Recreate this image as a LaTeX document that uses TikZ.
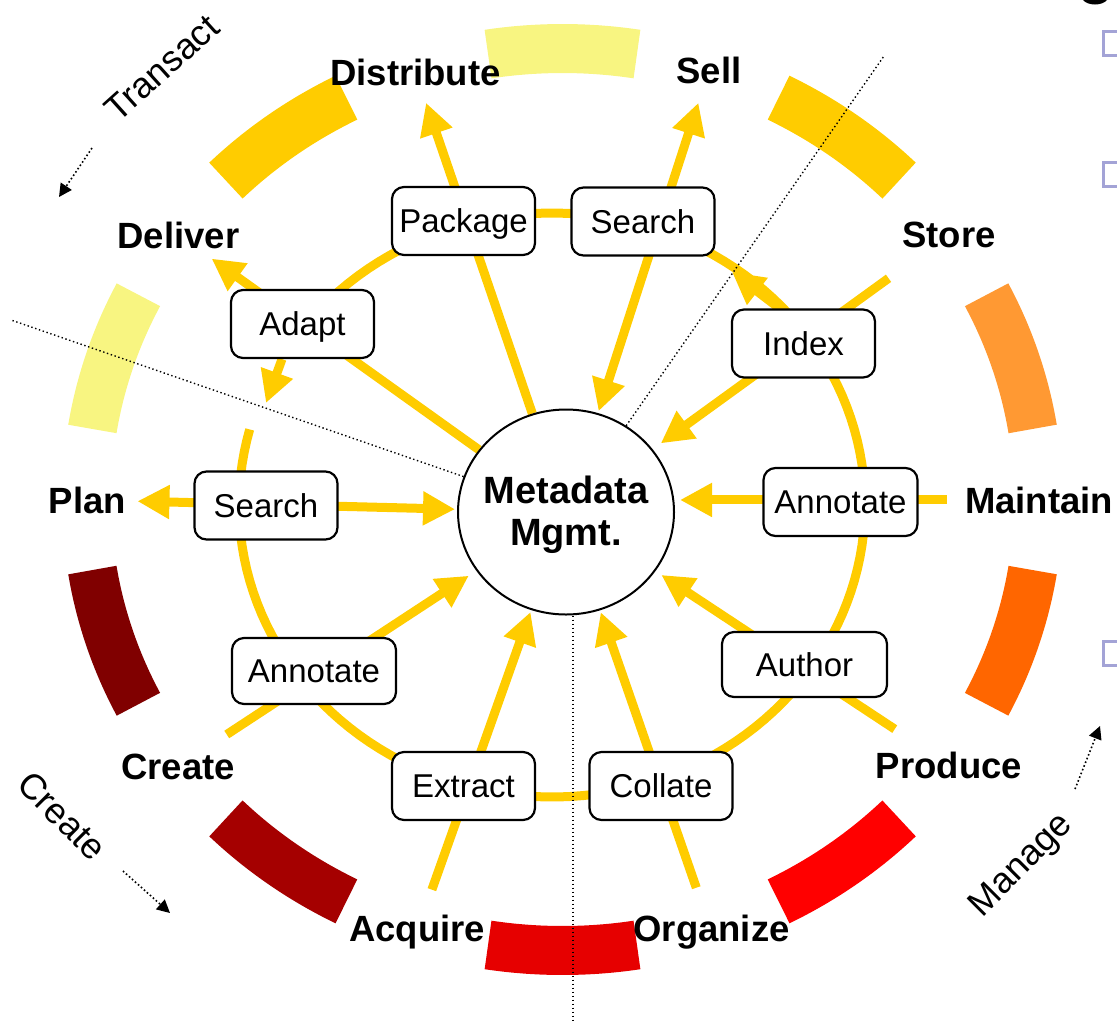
\documentclass[tikz,border=0pt]{standalone}
\usepackage{fontspec}
\setmainfont{Liberation Sans}
\usetikzlibrary{positioning,calc,arrows.meta,shapes.geometric}
\pgfdeclarelayer{background}
\pgfsetlayers{background,main}
\definecolor{gold}{HTML}{FFCC00}
\definecolor{paleyel}{HTML}{F8F581}
\definecolor{amber}{HTML}{FF9933}
\definecolor{tangerine}{HTML}{FF6600}
\definecolor{redA}{HTML}{FF0000}
\definecolor{redB}{HTML}{E60000}
\definecolor{redC}{HTML}{A50000}
\definecolor{maroon}{HTML}{800000}
\definecolor{lavender}{HTML}{A3A3D6}
\newcommand*{\phs}[1]{\fontsize{18.25}{20}\selectfont\bfseries #1}
\newcommand*{\seg}[3]{\draw[line width=24.5pt,#3]
  plot[domain=#1:#2,samples=30,variable=\t]
  ({562.5+476*cos(\t)},{499.5-451*sin(\t)});}

\begin{document}
\begin{tikzpicture}[x=0.5pt,y=-0.5pt,
  task/.style={draw,fill=white,rounded corners=6pt,line width=1.1pt,
    minimum width=71.5pt,minimum height=34pt,inner sep=2pt,
    text height=11.8pt,text depth=0pt,font=\fontsize{16.5}{18}\selectfont},
  phase/.style={anchor=base,inner sep=0pt},
  flow/.style={gold,line width=4.5pt,>={Triangle[length=16pt,width=16pt]}},
  divider/.style={line width=0.7pt,dash pattern=on 0.7pt off 1.3pt},
  hint/.style={line width=0.8pt,dash pattern=on 0.8pt off 1.2pt,
    -{Triangle[length=6.5pt,width=6.5pt]}}]
% Page is the size of the slide crop
\useasboundingbox (0,0) rectangle (1117,1023);
\clip (0,0) rectangle (1117,1023);
% Metadata circle in the middle
\node[draw,fill=white,ellipse,line width=1pt,inner sep=0pt,
  minimum width=108pt,minimum height=102.5pt] (meta) at (566,512) {};
\node[align=center,font=\fontsize{19}{21}\selectfont\bfseries] (metatxt)
  at ([yshift=-1.5pt]meta.center) {Metadata\\Mgmt.};
% Phases round the outside
\node[phase] (dist) at (415.5,85) {\phs{Distribute}};
\node[phase] (sell) at (709,83) {\phs{Sell}};
\node[phase] (store) at (949,247) {\phs{Store}};
\node[phase] (maint) at (1039,513) {\phs{Maintain}};
\node[phase] (prod) at (949,778) {\phs{Produce}};
\node[phase] (org) at (711.5,941) {\phs{Organize}};
\node[phase] (acq) at (417,941) {\phs{Acquire}};
\node[phase] (create) at (178,779) {\phs{Create}};
\node[phase] (plan) at (87.5,513) {\phs{Plan}};
\node[phase] (deliv) at (178.5,248) {\phs{Deliver}};
% Tasks on the inner ring
\node[task] (pkg) at (463.5,221) {Package};
\node[task] (srchT) at (643,221.5) {Search};
\node[task] (idx) at (803.5,343.5) {Index};
\node[task,minimum width=77pt] (annR) at (840.5,502) {Annotate};
\node[task,minimum width=82.5pt,minimum height=32.5pt] (auth) at (804.5,664.5) {Author};
\node[task] (coll) at (661,786) {Collate};
\node[task] (extr) at (463.5,786) {Extract};
\node[task,minimum width=82pt,minimum height=33pt] (annL) at (314,671) {Annotate};
\node[task] (srchL) at (266,505.5) {Search};
\node[task] (adapt) at (302.5,324) {Adapt};
% Ends of the dotted cuts and of the two ring arrows
\coordinate (cutNE) at (884,56);
\coordinate (cutW) at (11,320);
\coordinate (cutS) at (573,1023);
\coordinate (idxtip) at (732,272);
\coordinate (adtip) at (266,403);
\begin{pgfonlayer}{background}
% Outer bands, one between each pair of phases
\seg{81}{99}{paleyel}
\seg{117}{135}{gold}
\seg{153}{171}{paleyel}
\seg{189}{207}{maroon}
\seg{225}{243}{redC}
\seg{261}{279}{redB}
\seg{297}{315}{redA}
\seg{333}{351}{tangerine}
\seg{9}{27}{amber}
\seg{45}{63}{gold}
% Inner ring (open just below Adapt)
\draw[gold,line width=4.5pt] plot[domain=165:509,samples=150,variable=\t]
  ({552+313*cos(\t)},{505-292*sin(\t)});
% Arrows through the tasks
\draw[flow,->,shorten >=9pt] (meta) -- (dist);
\draw[flow,<->,shorten >=10pt,shorten <=1pt] (meta) -- (sell);
\draw[flow,->,shorten <=26pt,shorten >=5pt] (store) -- (meta);
\draw[flow,->,shorten <=9pt,shorten >=2.5pt] (maint.west) -- (maint.west -| meta.east);
\draw[flow,->,shorten <=20pt,shorten >=3.5pt] (prod) -- (meta);
\draw[flow,->,shorten <=14pt,shorten >=1pt] (org) -- (meta);
\draw[flow,->,shorten <=13pt,shorten >=1pt] (acq) -- (meta);
\draw[flow,->,shorten <=17pt,shorten >=4.5pt] (create) -- (meta);
\draw[flow,<->,shorten >=5.5pt,shorten <=1pt] (meta) -- (plan);
\draw[flow,->,shorten >=8.5pt] (meta) -- (deliv);
% Arrows along the ring
\draw[flow,->] ([xshift=-12pt]idx.north) -- (idxtip);
\draw[flow,->] ([xshift=-10.25pt]adapt.south) -- (adtip);
% Dotted cuts between the three parts
\draw[divider] (meta) -- (cutNE);
\draw[divider] (meta) -- (cutW);
\draw[divider] (meta.south -| cutS) -- (cutS);
\end{pgfonlayer}
% Names of the three parts, with their direction
\node[rotate=42,font=\fontsize{18}{20}\selectfont] (transact) at (162,68) {Transact};
\node[rotate=-45,font=\fontsize{18}{20}\selectfont] (crpart) at (62,816) {Create};
\node[rotate=45,font=\fontsize{18}{20}\selectfont] (manage) at (1022,866) {Manage};
\coordinate (trA) at (92,148);
\coordinate (trB) at (59,197);
\coordinate (crA) at (123,871);
\coordinate (crB) at (170,913);
\coordinate (mgA) at (1075,789);
\coordinate (mgB) at (1100,726);
\draw[hint] (trA) -- (trB);
\draw[hint] (crA) -- (crB);
\draw[hint] (mgA) -- (mgB);
% Bits of the slide cut off on the right
\draw[lavender,line width=1.5pt] (1103.5,31.5) rectangle ++(24,24);
\draw[lavender,line width=1.5pt] (1103.5,162.5) rectangle ++(24,24);
\draw[lavender,line width=1.5pt] (1103.5,641.5) rectangle ++(24,24);
\fill (1083,0) .. controls (1088,6) and (1102,6) .. (1107,0) -- cycle;
\end{tikzpicture}
\end{document}
